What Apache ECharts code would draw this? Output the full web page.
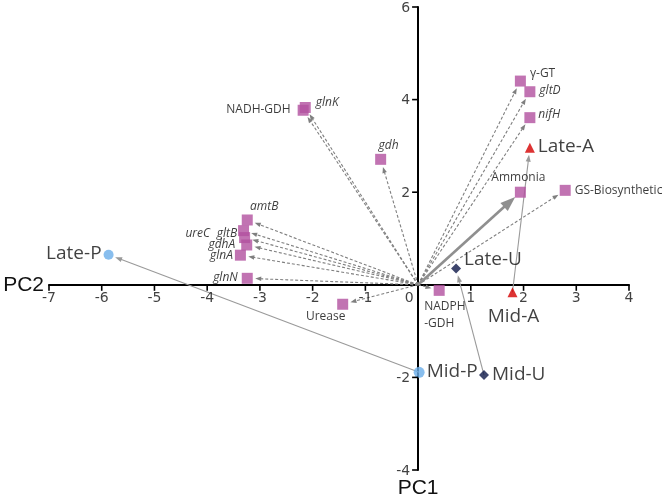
<!DOCTYPE html>
<html>
<head>
<meta charset="utf-8">
<script src="https://cdn.jsdelivr.net/npm/echarts@6/dist/echarts.min.js"></script>
<style>html,body{margin:0;padding:0;background:#fff}#c{width:666px;height:500px}</style>
</head>
<body>
<div id="c"></div>
<script>
// ---- data ----
const geneNames = ['γ-GT','gltD','nifH','Ammonia','GS-Biosynthetic','gdh','glnK','NADH-GDH','amtB','ureC','gltB','gdhA','glnA','glnN','Urease','NADPH-GDH'];
const geneX = [1.94, 2.12, 2.12, 1.94, 2.79, -0.71, -2.14, -2.18, -3.24, -3.31, -3.29, -3.25, -3.37, -3.24, -1.43, 0.40];
const geneY = [4.40, 4.17, 3.61, 2.00, 2.04, 2.71, 3.83, 3.77, 1.40, 1.17, 1.02, 0.86, 0.64, 0.14, -0.42, -0.12];
const sampleNames = ['Late-A','Mid-A','Late-U','Mid-U','Late-P','Mid-P'];
const sampleX = [2.12, 1.79, 0.72, 1.25, -5.87, 0.02];
const sampleY = [2.96, -0.16, 0.35, -1.95, 0.65, -1.89];
const trajectories = [['Mid-A','Late-A'],['Mid-U','Late-U'],['Mid-P','Late-P']];
const xTickValues = [-7, -6, -5, -4, -3, -2, -1, 0, 1, 2, 3, 4];
const yTickValues = [-4, -2, 2, 4, 6];
const xRange = {min: -7, max: 4};
const yRange = {min: -4, max: 6};

// ---- styles ----
const italicGenes = ['gltD','nifH','gdh','glnK','amtB','ureC','gltB','gdhA','glnA','glnN'];
const geneLabel = {
  'γ-GT': {position:'right', distance:4, offset:[0,-8]},
  'gltD': {position:'right', distance:4, offset:[0,-1]},
  'nifH': {position:'right', distance:3, offset:[0,-3]},
  'Ammonia': {position:'top', distance:3, offset:[-2,0]},
  'GS-Biosynthetic': {position:'right', distance:4, offset:[0,0]},
  'gdh': {position:'top', distance:2, offset:[8,0]},
  'glnK': {position:'right', distance:5, offset:[0,-5]},
  'NADH-GDH': {position:'left', distance:7, offset:[0,-1]},
  'amtB': {position:'top', distance:2, offset:[17,0]},
  'ureC': {position:'left', distance:28, offset:[0,3]},
  'gltB': {position:'left', distance:2, offset:[0,-4]},
  'gdhA': {position:'left', distance:6, offset:[0,0]},
  'glnA': {position:'left', distance:2, offset:[0,0]},
  'glnN': {position:'left', distance:4, offset:[0,-1]},
  'Urease': {position:'bottom', distance:1, offset:[-17,0]},
  'NADPH-GDH': {position:'bottom', distance:2, offset:[-15,0], align:'left', lineHeight:17, formatter:'NADPH\n-GDH'}
};
const sampleStyle = {
  'Late-A': {symbol:'triangle', color:'#d40000', size:10, label:{position:'right', distance:3, offset:[0,-1]}},
  'Mid-A': {symbol:'triangle', color:'#d40000', size:10, label:{position:'bottom', distance:10, offset:[1,0]}},
  'Late-U': {symbol:'diamond', color:'#0d1747', size:10, label:{position:'right', distance:3, offset:[0,-9]}},
  'Mid-U': {symbol:'diamond', color:'#0d1747', size:10, label:{position:'right', distance:3, offset:[0,0]}},
  'Late-P': {symbol:'circle', color:'#6aaeea', size:10, label:{position:'left', distance:2, offset:[0,-1]}},
  'Mid-P': {symbol:'circle', color:'#6aaeea', size:11, label:{position:'right', distance:2, offset:[0,-1]}}
};
const GENE_COLOR = '#b2509f';
const ARROW = '#7f7f7f';
const TICK_FONT = {fontFamily: 'DejaVu Sans', fontSize: 14, color: '#111'};

// ---- build ----
const geneData = geneNames.map((n, i) => ({
  name: n, value: [geneX[i], geneY[i]],
  label: Object.assign({
    show: true, color: '#0a0a0a', fontFamily: 'Open Sans', fontSize: 12,
    fontStyle: italicGenes.includes(n) ? 'italic' : 'normal', formatter: n
  }, geneLabel[n])
}));
const sIdx = n => sampleNames.indexOf(n);
const sampleData = sampleNames.map((n, i) => {
  const s = sampleStyle[n];
  return {
    name: n, value: [sampleX[i], sampleY[i]], symbol: s.symbol, symbolSize: s.size,
    itemStyle: {color: s.color},
    label: Object.assign({show: true, color: '#111', fontFamily: 'Open Sans', fontSize: 19, formatter: n}, s.label)
  };
});

const geneArrowData = geneNames.map((n, i) => n === 'Ammonia' ? null : [0, 0, geneX[i], geneY[i]]).filter(d => d);
const ammIdx = geneNames.indexOf('Ammonia');
const ammoniaArrowData = [[0, 0, geneX[ammIdx], geneY[ammIdx]]];
const trajData = trajectories.map(([a, b]) => [sampleX[sIdx(a)], sampleY[sIdx(a)], sampleX[sIdx(b)], sampleY[sIdx(b)]]);

// tick label / tick mark items (axes cross at 0)
const xTickData = xTickValues.map(v => ({
  value: [v, 0],
  label: Object.assign({show: true, position: 'bottom', distance: 7, formatter: String(v), offset: v === 0 ? [-9, 0] : [0, 0]}, TICK_FONT)
}));
const yTickData = yTickValues.map(v => ({
  value: [0, v],
  label: Object.assign({show: true, position: 'left', distance: 8, formatter: String(v), offset: [0, 1]}, TICK_FONT)
}));
const tickMarkData = xTickValues.filter(v => v !== 0).map(v => [v, 0, 0]).concat(yTickValues.map(v => [0, v, 1]));

function arrowRender(gap, headLen, headW, lw, dash, color) {
  return function (params, api) {
    const p0 = api.coord([api.value(0), api.value(1)]);
    const p1 = api.coord([api.value(2), api.value(3)]);
    const dx = p1[0] - p0[0], dy = p1[1] - p0[1];
    const len = Math.hypot(dx, dy) || 1;
    const ux = dx / len, uy = dy / len;
    const tip = [p1[0] - ux * gap, p1[1] - uy * gap];
    const base = [tip[0] - ux * headLen, tip[1] - uy * headLen];
    const px = -uy, py = ux;
    return {
      type: 'group',
      children: [
        {type: 'line', shape: {x1: p0[0], y1: p0[1], x2: base[0] + ux, y2: base[1] + uy},
          style: {stroke: color, lineWidth: lw, lineDash: dash, fill: null}},
        {type: 'polygon', shape: {points: [tip,
          [base[0] + px * headW / 2, base[1] + py * headW / 2],
          [base[0] - px * headW / 2, base[1] - py * headW / 2]]},
          style: {fill: color, stroke: null}}
      ]
    };
  };
}
function tickRender(params, api) {
  const p = api.coord([api.value(0), api.value(1)]);
  const vertical = api.value(2) === 1;
  return {
    type: 'line',
    shape: vertical ? {x1: p[0], y1: p[1], x2: p[0] - 6, y2: p[1]} : {x1: p[0], y1: p[1], x2: p[0], y2: p[1] + 6},
    style: {stroke: '#000', lineWidth: 1.6}
  };
}

const chart = echarts.init(document.getElementById('c'), null, {renderer: 'canvas'});
chart.setOption({
  animation: false,
  backgroundColor: '#fff',
  grid: {left: 49, right: 37, top: 7, bottom: 30, containLabel: false, outerBoundsMode: 'none'},
  xAxis: {
    type: 'value', min: xRange.min, max: xRange.max, interval: 1,
    name: 'PC2', nameLocation: 'start', nameGap: 5,
    nameTextStyle: {fontFamily: 'Liberation Sans', fontSize: 21, color: '#111', verticalAlign: 'middle', padding: [2, 0, 0, 0]},
    axisLine: {onZero: true, lineStyle: {color: '#000', width: 2}},
    axisTick: {show: false},
    axisLabel: {show: false},
    splitLine: {show: false}
  },
  yAxis: {
    type: 'value', min: yRange.min, max: yRange.max, interval: 2,
    name: 'PC1', nameLocation: 'start', nameGap: 8,
    nameTextStyle: {fontFamily: 'Liberation Sans', fontSize: 21, color: '#111'},
    axisLine: {onZero: true, lineStyle: {color: '#000', width: 2}},
    axisTick: {show: false},
    axisLabel: {show: false},
    splitLine: {show: false}
  },
  series: [
    {type: 'custom', name: 'ticks', coordinateSystem: 'cartesian2d', clip: false, silent: true,
      renderItem: tickRender, data: tickMarkData, encode: {x: 0, y: 1}, z: 5},
    {type: 'scatter', name: 'xTickLabels', symbolSize: 0, silent: true, data: xTickData, z: 5},
    {type: 'scatter', name: 'yTickLabels', symbolSize: 0, silent: true, data: yTickData, z: 5},
    {type: 'custom', name: 'geneArrows', coordinateSystem: 'cartesian2d', clip: false, silent: true,
      renderItem: arrowRender(8, 6, 4.5, 1.1, [3, 2], ARROW), data: geneArrowData,
      encode: {x: [0, 2], y: [1, 3]}, z: 1},
    {type: 'custom', name: 'ammoniaArrow', coordinateSystem: 'cartesian2d', clip: false, silent: true,
      renderItem: arrowRender(7, 15, 11, 2.6, null, '#8f8f8f'), data: ammoniaArrowData,
      encode: {x: [0, 2], y: [1, 3]}, z: 1},
    {type: 'custom', name: 'trajectories', coordinateSystem: 'cartesian2d', clip: false, silent: true,
      renderItem: arrowRender(7, 7, 5, 1.1, null, '#9a9a9a'), data: trajData,
      encode: {x: [0, 2], y: [1, 3]}, z: 1},
    {type: 'scatter', name: 'genes', symbol: 'rect', symbolSize: 11, itemStyle: {color: GENE_COLOR},
      data: geneData, z: 3},
    {type: 'scatter', name: 'samples', data: sampleData, z: 4}
  ]
});
</script>
</body>
</html>
